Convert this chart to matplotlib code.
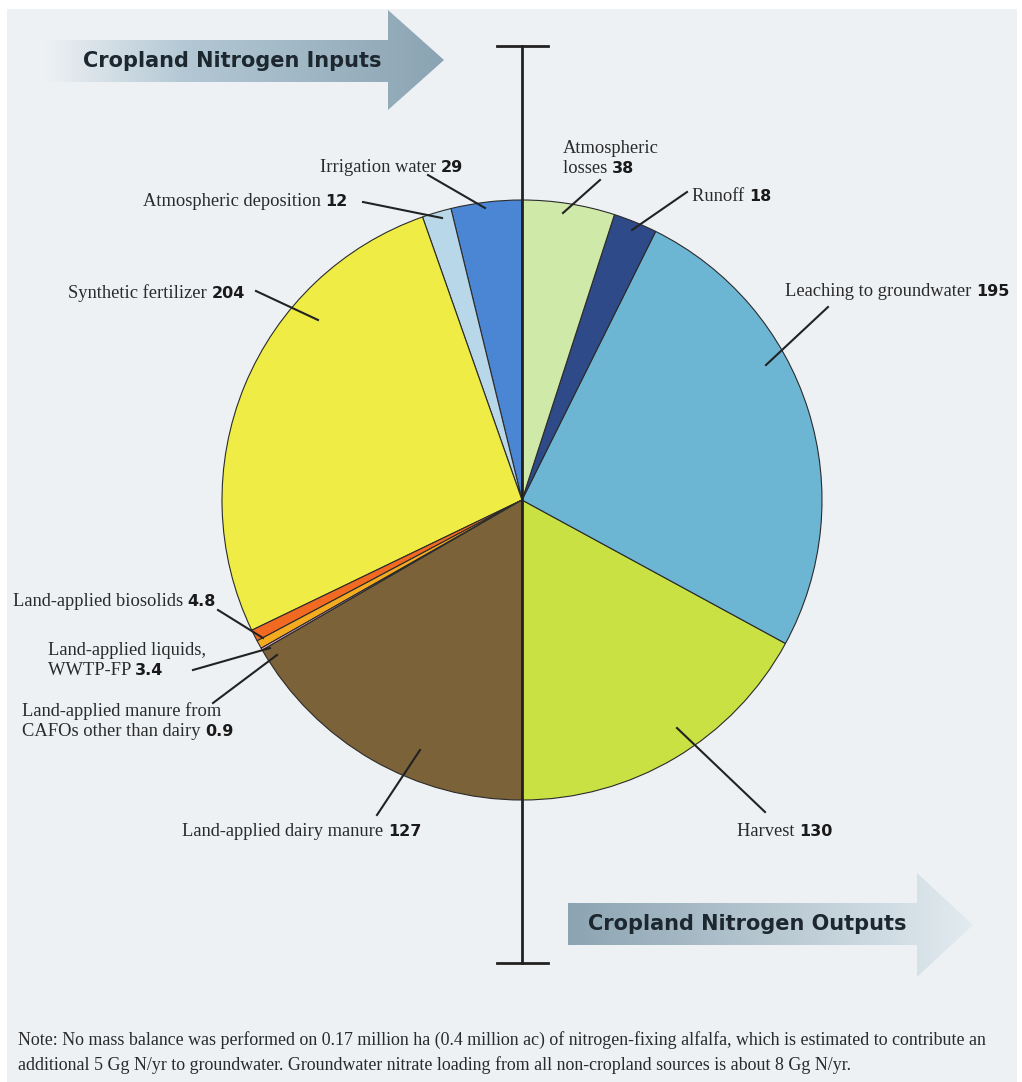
import matplotlib.pyplot as plt
import numpy as np
from matplotlib.patches import Polygon, Rectangle
from matplotlib.colors import LinearSegmentedColormap

# data: inputs go anticlockwise from top, outputs clockwise from top
in_names = ['Irrigation water', 'Atmospheric deposition', 'Synthetic fertilizer',
            'Land-applied biosolids', 'Land-applied liquids,\nWWTP-FP',
            'Land-applied manure from\nCAFOs other than dairy', 'Land-applied dairy manure']
in_values = [29, 12, 204, 4.8, 3.4, 0.9, 127]
in_colors = ['#4a86d4', '#b8d7e8', '#eeec45', '#f26a22', '#f5ab20', '#f2a9cb', '#7b6238']

out_names = ['Atmospheric\nlosses', 'Runoff', 'Leaching to groundwater', 'Harvest']
out_values = [38, 18, 195, 130]
out_colors = ['#cfe9a9', '#2f4a88', '#6cb5d3', '#c9e143']

H = 1082
fig = plt.figure(figsize=(10.22, 10.82), dpi=100)
ax = fig.add_axes([0, 0, 1, 1])

def Y(y):
    return H - y

bg = '#eef1f4'
ax.add_patch(Rectangle((7, 0), 1010, Y(9), facecolor=bg, edgecolor='none', zorder=0))

# pie: one full circle, inputs on the left half, outputs on the right half
vals = in_values + out_values[::-1]
cols = in_colors + out_colors[::-1]
ax.pie(vals, colors=cols, startangle=90, counterclock=True, center=(522, Y(500)),
       radius=300, wedgeprops=dict(edgecolor='#2b2b2b', linewidth=0.8), frame=True)

# vertical divider
ax.plot([522, 522], [Y(46), Y(963)], color='#222222', lw=2, zorder=5)
ax.plot([497, 548], [Y(46), Y(46)], color='#222222', lw=2, zorder=5)
ax.plot([497, 548], [Y(963), Y(963)], color='#222222', lw=2, zorder=5)

# gradient arrows
def grad_arrow(x0, x1, xh, yb0, yb1, yh0, yh1, c_left, c_right, fade=False):
    pts = [(x0, Y(yb0)), (x1, Y(yb0)), (x1, Y(yh0)), (xh, Y((yh0 + yh1) / 2)),
           (x1, Y(yh1)), (x1, Y(yb1)), (x0, Y(yb1))]
    poly = Polygon(pts, closed=True, facecolor='none', edgecolor='none')
    ax.add_patch(poly)
    if fade:
        cmap = LinearSegmentedColormap.from_list('g', [(0, bg), (0.35, c_left), (1, c_right)])
    else:
        cmap = LinearSegmentedColormap.from_list('g', [c_left, c_right])
    grad = np.linspace(0, 1, 256).reshape(1, -1)
    im = ax.imshow(grad, cmap=cmap, aspect='auto', extent=(x0, xh, Y(yh1), Y(yh0)), zorder=2)
    im.set_clip_path(poly)

grad_arrow(45, 388, 444, 40, 82, 10, 110, '#b3c8d4', '#8ba4b3', fade=True)
grad_arrow(568, 917, 973, 903, 945, 873, 977, '#8ca4b2', '#e2ebf0')

ax.set_xlim(0, 1022)
ax.set_ylim(0, H)
ax.set_aspect('auto')
ax.axis('off')

ax.text(232, Y(61), 'Cropland Nitrogen Inputs', ha='center', va='center',
        fontsize=15, fontweight='bold', family='DejaVu Sans', color='#1d2730', zorder=6)
ax.text(747, Y(924), 'Cropland Nitrogen Outputs', ha='center', va='center',
        fontsize=15, fontweight='bold', family='DejaVu Sans', color='#1d2730', zorder=6)

# label anchor: (x of line start, baseline of last line)
label_pos = {
    'Irrigation water': (320, 172),
    'Atmospheric deposition': (143, 206),
    'Synthetic fertilizer': (68, 298),
    'Land-applied biosolids': (13, 606),
    'Land-applied liquids,\nWWTP-FP': (48, 675),
    'Land-applied manure from\nCAFOs other than dairy': (22, 736),
    'Land-applied dairy manure': (182, 836),
    'Atmospheric\nlosses': (563, 173),
    'Runoff': (692, 201),
    'Leaching to groundwater': (785, 296),
    'Harvest': (737, 836),
}
leaders = {
    'Irrigation water': [(428, 175), (485, 208)],
    'Atmospheric deposition': [(363, 202), (442, 218)],
    'Synthetic fertilizer': [(256, 291), (318, 320)],
    'Land-applied biosolids': [(218, 610), (263, 638)],
    'Land-applied liquids,\nWWTP-FP': [(193, 670), (270, 648)],
    'Land-applied manure from\nCAFOs other than dairy': [(213, 703), (277, 655)],
    'Land-applied dairy manure': [(377, 815), (420, 750)],
    'Atmospheric\nlosses': [(600, 180), (563, 213)],
    'Runoff': [(687, 192), (632, 230)],
    'Leaching to groundwater': [(828, 307), (766, 365)],
    'Harvest': [(765, 812), (677, 728)],
}

name_font = dict(family='Liberation Serif', fontsize=13.3, color='#2a2a2a')
num_font = dict(family='DejaVu Sans', fontsize=11.5, fontweight='bold', color='#1a1a1a')

pairs = []
for name, v in list(zip(in_names, in_values)) + list(zip(out_names, out_values)):
    x, yb = label_pos[name]
    lines = name.split('\n')
    for k, line in enumerate(lines[:-1]):
        ax.text(x, Y(yb - 20 * (len(lines) - 1 - k)), line, ha='left', va='baseline',
                zorder=6, **name_font)
    t = ax.text(x, Y(yb), lines[-1] + ' ', ha='left', va='baseline', zorder=6, **name_font)
    pairs.append((t, v, yb))
    (x0, y0), (x1, y1) = leaders[name]
    ax.plot([x0, x1], [Y(y0), Y(y1)], color='#222222', lw=1.5, zorder=6)

fig.canvas.draw()
r = fig.canvas.get_renderer()
for t, v, yb in pairs:
    bb = t.get_window_extent(renderer=r)
    xe = ax.transData.inverted().transform((bb.x1, bb.y0))[0]
    ax.text(xe, Y(yb), f'{v:g}', ha='left', va='baseline', zorder=6, **num_font)

note1 = ('Note: No mass balance was performed on 0.17 million ha (0.4 million ac) of nitrogen-fixing alfalfa, '
         'which is estimated to contribute an')
note2 = ('additional 5 Gg N/yr to groundwater. Groundwater nitrate loading '
         'from all non-cropland sources is about 8 Gg N/yr.')
note_font = dict(family='Liberation Serif', fontsize=12.9, color='#2a2a2a', zorder=6)
ax.text(18, Y(1045), note1, ha='left', va='baseline', **note_font)
ax.text(18, Y(1070), note2, ha='left', va='baseline', **note_font)

fig.savefig('out.png', dpi=100)
